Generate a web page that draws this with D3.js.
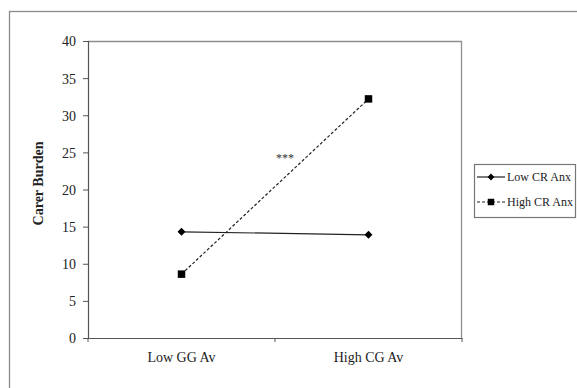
<!DOCTYPE html>
<html>
<head>
<meta charset="utf-8">
<script src="https://cdn.jsdelivr.net/npm/d3@7"></script>
<style>
  body { margin: 0; background: #fff; }
  svg { display: block; font-family: "Liberation Serif", "Times New Roman", serif; }
</style>
</head>
<body>
<svg id="chart"></svg>
<script>
const categories = ['Low GG Av', 'High CG Av'];
const seriesNames = ['Low CR Anx', 'High CR Anx'];
const lowCrAnx = [14.3, 13.9];
const highCrAnx = [8.6, 32.2];
const yTicks = [0, 5, 10, 15, 20, 25, 30, 35, 40];

const WIDTH = 577, HEIGHT = 388;
const margin = {top: 41, right: 115, bottom: 50, left: 88};
const width = WIDTH - margin.left - margin.right,
  height = HEIGHT - margin.top - margin.bottom;

const svg = d3.select('#chart')
  .attr('width', WIDTH)
  .attr('height', HEIGHT);

// outer frame
svg.append('rect')
  .attr('x', 9.5).attr('y', 11.5)
  .attr('width', WIDTH + 20).attr('height', HEIGHT + 20)
  .attr('fill', 'none')
  .attr('stroke', '#8a8a8a')
  .attr('stroke-width', 1.3);

const g = svg.append('g')
  .attr('transform', `translate(${margin.left},${margin.top})`);

const x = d3.scaleBand()
  .domain(categories)
  .range([0, width]);
const y = d3.scaleLinear()
  .domain([0, 40])
  .range([height, 0]);

// plot box (top and right)
g.append('path')
  .attr('d', `M0,0.5H${width - 0.5}V${height}`)
  .attr('fill', 'none')
  .attr('stroke', '#8f8f8f')
  .attr('stroke-width', 1.3);

const yAxis = g.append('g')
  .call(d3.axisLeft(y).tickValues(yTicks).tickSize(5).tickPadding(7));
const xAxis = g.append('g')
  .attr('transform', `translate(0,${height})`)
  .call(d3.axisBottom(x).tickSize(0).tickPadding(14));

// x ticks at category boundaries
xAxis.selectAll('.bound')
  .data([0, width / 2, width])
  .enter().append('line')
  .attr('x1', d => d).attr('x2', d => d)
  .attr('y1', 0).attr('y2', 4)
  .attr('stroke', '#555');

[yAxis, xAxis].forEach(a => {
  a.select('.domain').attr('stroke', '#555').attr('stroke-width', 1.2);
  a.selectAll('.tick line').attr('stroke', '#555');
  a.selectAll('text')
    .attr('fill', '#222')
    .style('font-size', '14px')
    .style('font-family', '"Liberation Serif", serif');
});
yAxis.selectAll('text').attr('dy', '0.35em');

g.append('text')
  .attr('transform', `translate(-50,${height / 2 - 6}) rotate(-90)`)
  .attr('text-anchor', 'middle')
  .attr('dy', '0.35em')
  .attr('fill', '#222')
  .style('font-size', '14px')
  .style('font-weight', 'bold')
  .text('Carer Burden');

const cx = c => x(c) + x.bandwidth() / 2;
const line = d3.line()
  .x((d, i) => cx(categories[i]))
  .y(d => y(d));

const series = [
  {name: seriesNames[0], values: lowCrAnx, dash: null, marker: 'diamond'},
  {name: seriesNames[1], values: highCrAnx, dash: '3,2', marker: 'square'}
];

const markerPath = (m, scale) => m === 'square'
  ? d3.symbol(d3.symbolSquare, 56 * scale)()
  : d3.symbol(d3.symbolDiamond2, 40 * scale)();

series.forEach(s => {
  g.append('path')
    .attr('d', line(s.values))
    .attr('fill', 'none')
    .attr('stroke', '#222')
    .attr('stroke-width', 1.2)
    .attr('stroke-dasharray', s.dash);
  g.selectAll(null)
    .data(s.values)
    .enter().append('path')
    .attr('transform', (d, i) => `translate(${cx(categories[i])},${y(d)})`)
    .attr('d', markerPath(s.marker, 1))
    .attr('fill', '#000');
});

// significance marker
g.append('text')
  .attr('x', 197).attr('y', 121)
  .attr('text-anchor', 'middle')
  .attr('fill', '#333')
  .style('font-size', '12px')
  .text('***');

// legend
const legend = svg.append('g').attr('transform', 'translate(474,164)');
legend.append('rect')
  .attr('x', 0.5).attr('y', 0.5)
  .attr('width', 101).attr('height', 53)
  .attr('fill', '#fff')
  .attr('stroke', '#777')
  .attr('stroke-width', 1.2);

series.forEach((s, i) => {
  const ly = 13 + i * 25;
  legend.append('line')
    .attr('x1', 3).attr('x2', 31)
    .attr('y1', ly).attr('y2', ly)
    .attr('stroke', '#222')
    .attr('stroke-width', 1.2)
    .attr('stroke-dasharray', s.dash);
  legend.append('path')
    .attr('transform', `translate(17,${ly})`)
    .attr('d', markerPath(s.marker, 0.75))
    .attr('fill', '#000');
  legend.append('text')
    .attr('x', 33).attr('y', ly)
    .attr('dy', '0.35em')
    .attr('fill', '#222')
    .style('font-size', '12px')
    .text(s.name);
});
</script>
</body>
</html>
